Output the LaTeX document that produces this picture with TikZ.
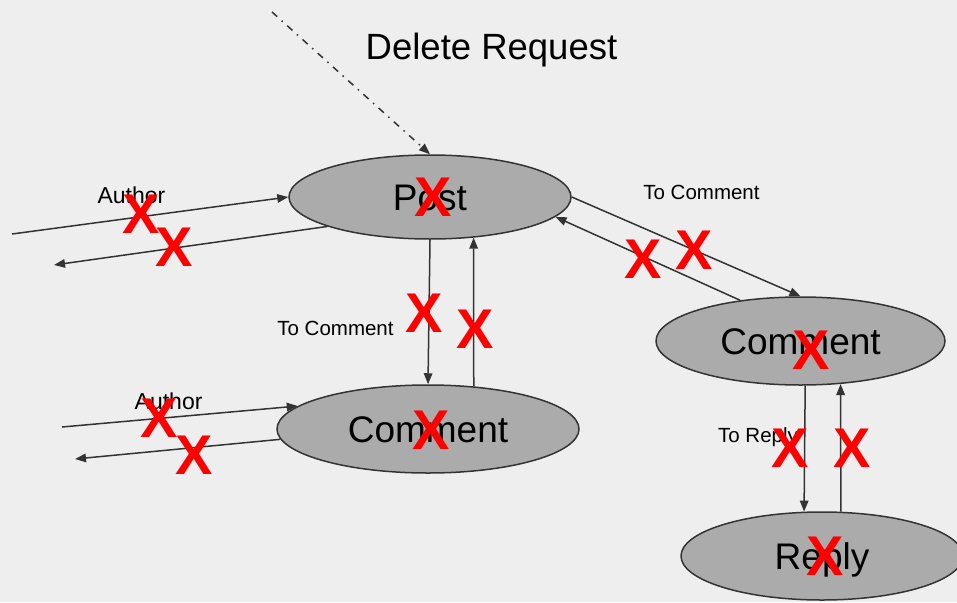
\documentclass[tikz,border=0pt]{standalone}
\usepackage{fontspec}
\setmainfont{Liberation Sans}
\usetikzlibrary{shapes.geometric,arrows.meta}
\definecolor{bg}{HTML}{EEEEEE}
\definecolor{nodefill}{HTML}{ABABAB}
\definecolor{linec}{HTML}{333333}
\definecolor{xred}{HTML}{FF0000}
\begin{document}
\begin{tikzpicture}[x=1pt,y=-1pt,
  ell/.style={ellipse, draw=linec, line width=1.5pt, fill=nodefill, inner sep=0pt,
    font=\fontsize{37pt}{40pt}\selectfont, text height=26.6pt, text depth=0pt},
  lbl/.style={inner sep=0pt, text height=14.8pt, text depth=0pt,
    font=\fontsize{20.5pt}{22pt}\selectfont},
  authlbl/.style={lbl, text height=16.6pt, font=\fontsize{23pt}{25pt}\selectfont},
  conn/.style={draw=linec, line width=1.5pt, -{Triangle[length=11pt,width=8.5pt]}},
  dashdot/.style={dash pattern=on 7pt off 6pt on 1.5pt off 6pt},
  xmark/.style={text=xred, inner sep=0pt, text height=40pt, text depth=0pt,
    font=\fontsize{56pt}{58pt}\selectfont\bfseries}]
\fill[bg] (0,0) rectangle (957,602);
\useasboundingbox (0,0) rectangle (957,602);
\clip (0,0) rectangle (957,602);

% ellipses
\node[ell, minimum width=282pt, minimum height=84pt] (post) at (430,197) {Post};
\node[ell, minimum width=289pt, minimum height=88pt] (cr) at (800.5,341) {Comment};
\node[ell, minimum width=302pt, minimum height=88pt] (cl) at (428,429) {Comment};
\node[ell, minimum width=282pt, minimum height=88pt] (reply) at (822,556) {Reply};

% free ends
\coordinate (dstart) at (272,12);
\coordinate (a1in) at (12,234);
\coordinate (a1out) at (54,265);
\coordinate (a2in) at (62,427);
\coordinate (a2out) at (75,459);

% connectors
\draw[conn, dashdot] (dstart) -- (post.north);
\draw[conn] (a1in) -- (post.west);
\draw[conn] (post.196.5) -- (a1out);
\draw[conn] (post.east) -- (cr.north);
\draw[conn] (cr.146.8) -- (post.-9.8);
\draw[conn] (post.south) -- (cl.north);
\draw[conn] (cl.43.7) -- (post.-43.7);
\draw[conn] (a2in) -- (cl.170.5);
\draw[conn] (cl.184.8) -- (a2out);
\draw[conn] (cr.-84.8) -- (reply.112.4);
\draw[conn] (reply.67.6) -- (cr.-47.4);

% labels
\node[lbl, text height=26.2pt, font=\fontsize{36.5pt}{40pt}\selectfont] (del) at (491.5,46) {Delete Request};
\node[authlbl] (auth1) at (131.5,195.5) {Author};
\node[authlbl] (auth2) at (168.6,401) {Author};
\node[lbl] (tc1) at (701.5,192.5) {To Comment};
\node[lbl] (tc2) at (335.5,328) {To Comment};
\node[lbl] (tr) at (758,435) {To Reply};

% red crosses
\node[xmark] (x1) at (433,196.5) {X};
\node[xmark] (x2) at (141.5,213.5) {X};
\node[xmark] (x3) at (174.5,246) {X};
\node[xmark] (x4) at (643,258) {X};
\node[xmark] (x5) at (694,249) {X};
\node[xmark] (x6) at (424,312) {X};
\node[xmark] (x7) at (475,328) {X};
\node[xmark] (x8) at (811,349) {X};
\node[xmark] (x9) at (790,447) {X};
\node[xmark] (x10) at (852,447) {X};
\node[xmark] (x11) at (825,555) {X};
\node[xmark] (x12) at (159,417.5) {X};
\node[xmark] (x13) at (194,454) {X};
\node[xmark] (x14) at (431.5,429.5) {X};
\end{tikzpicture}
\end{document}
